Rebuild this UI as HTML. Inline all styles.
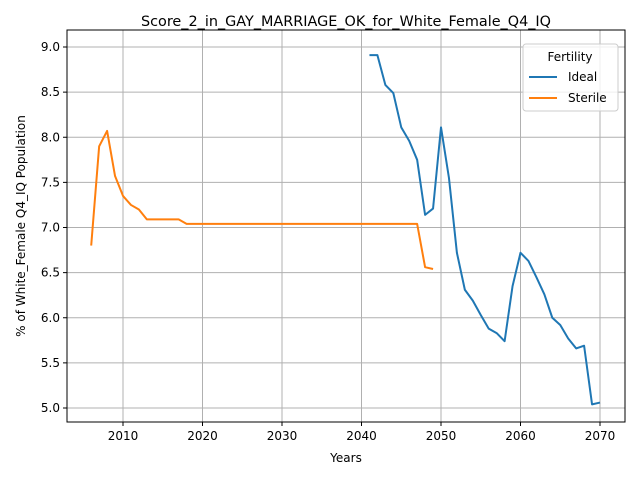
<!DOCTYPE html>
<html><head><meta charset="utf-8"><style>
body{margin:0;background:#fff;}
svg text{font-family:"DejaVu Sans","Liberation Sans",sans-serif;}
</style></head><body>
<svg id="chart" width="640" height="480" xmlns="http://www.w3.org/2000/svg">
<rect width="640" height="480" fill="#fff"/>
<g id="grid"></g>
<g id="lines"></g>
<rect x="67" y="30" width="558" height="392" fill="none" stroke="#000" stroke-width="1"/>
<g id="ticks"></g>
<text x="346" y="26" text-anchor="middle" font-size="14.4">Score_2_in_GAY_MARRIAGE_OK_for_White_Female_Q4_IQ</text>
<text x="346" y="462" text-anchor="middle" font-size="12">Years</text>
<text x="0" y="0" transform="translate(25,226) rotate(-90)" text-anchor="middle" font-size="12">% of White_Female Q4_IQ Population</text>
<g>
<rect x="523" y="44" width="95" height="67" rx="3" fill="#fff" fill-opacity="0.8" stroke="#ccc"/>
<text x="570" y="61" text-anchor="middle" font-size="12">Fertility</text>
<line x1="529" y1="77" x2="557" y2="77" stroke="#1f77b4" stroke-width="2"/>
<text x="568" y="81" font-size="12">Ideal</text>
<line x1="529" y1="98" x2="557" y2="98" stroke="#ff7f0e" stroke-width="2"/>
<text x="568" y="102" font-size="12">Sterile</text>
</g>
</svg>
<script>
const idealYears=[2041,2042,2043,2044,2045,2046,2047,2048,2049,2050,2051,2052,2053,2054,2055,2056,2057,2058,2059,2060,2061,2062,2063,2064,2065,2066,2067,2068,2069,2070];
const idealValues=[8.91,8.91,8.58,8.49,8.11,7.96,7.75,7.14,7.21,8.11,7.55,6.72,6.31,6.19,6.03,5.88,5.83,5.74,6.35,6.72,6.63,6.45,6.26,6.0,5.92,5.77,5.66,5.69,5.04,5.06];
const sterileYears=[2006,2007,2008,2009,2010,2011,2012,2013,2014,2015,2016,2017,2018,2019,2020,2025,2030,2035,2040,2045,2046,2047,2048,2049];
const sterileValues=[6.8,7.9,8.07,7.57,7.35,7.25,7.2,7.09,7.09,7.09,7.09,7.09,7.04,7.04,7.04,7.04,7.04,7.04,7.04,7.04,7.04,7.04,6.56,6.54];
const xTicks=[2010,2020,2030,2040,2050,2060,2070];
const yTicks=[5.0,5.5,6.0,6.5,7.0,7.5,8.0,8.5,9.0];
const X=v=>123+(v-2010)*7.95;
const Y=v=>408-(v-5)*90.25;
const NS="http://www.w3.org/2000/svg";
const grid=document.getElementById('grid'),ticks=document.getElementById('ticks'),lines=document.getElementById('lines');
function mk(tag,attrs,parent){const e=document.createElementNS(NS,tag);for(const k in attrs)e.setAttribute(k,attrs[k]);parent.appendChild(e);return e;}
xTicks.forEach(t=>{
 const g=mk('line',{x1:X(t),x2:X(t),y1:30,y2:422,stroke:'#b0b0b0','stroke-width':1},grid);
 
 
 mk('line',{x1:X(t),x2:X(t),y1:422,y2:426,stroke:'#000'},ticks);
 const tx=mk('text',{x:X(t),y:440,'text-anchor':'middle','font-size':12},ticks);tx.textContent=t;
 
 
});
yTicks.forEach(t=>{
 const g=mk('line',{x1:67,x2:625,y1:Y(t),y2:Y(t),stroke:'#b0b0b0','stroke-width':1},grid);
 
 
 mk('line',{x1:63,x2:67,y1:Y(t),y2:Y(t),stroke:'#000'},ticks);
 const tx=mk('text',{x:60,y:Y(t)+4,'text-anchor':'end','font-size':12},ticks);tx.textContent=t.toFixed(1);
 
 
});
function series(xs,ys,color,name){
 const p=mk('polyline',{points:xs.map((x,i)=>X(x)+','+Y(ys[i])).join(' '),fill:'none',stroke:color,'stroke-width':2,'stroke-linejoin':'round'},lines);
 
 
}
series(idealYears,idealValues,'#1f77b4','ideal-line');
series(sterileYears,sterileValues,'#ff7f0e','sterile-line');
</script>
</body></html>
